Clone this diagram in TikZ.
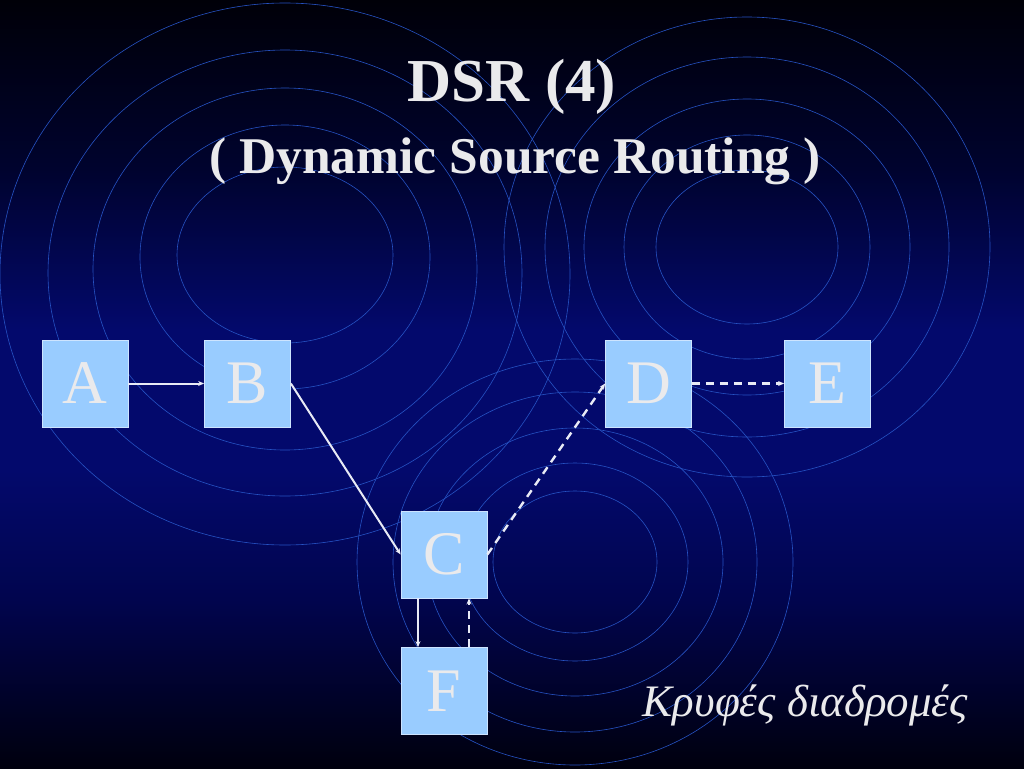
\documentclass[tikz,border=0pt]{standalone}
\usepackage{fontspec}
\setmainfont{Liberation Serif}
\usetikzlibrary{arrows.meta}
\definecolor{bgtop}{RGB}{0,0,8}
\definecolor{bgA}{RGB}{0,3,46}
\definecolor{bgmid}{RGB}{3,9,108}
\definecolor{bgB}{RGB}{1,5,78}
\definecolor{bgbot}{RGB}{0,0,14}
\definecolor{ringc}{RGB}{38,82,195}
\definecolor{boxfill}{RGB}{153,204,255}
\definecolor{boxline}{RGB}{205,228,255}
\definecolor{txt}{RGB}{234,234,236}
\definecolor{edgec}{RGB}{232,234,245}
% positions measured bottom-up; picture fitted to the central 25bp..75bp band
\pgfdeclareverticalshading{bgshade}{100bp}{color(0bp)=(bgbot); color(25bp)=(bgbot); color(36bp)=(bgB); color(44.4bp)=(bgmid); color(53.5bp)=(bgmid); color(64bp)=(bgA); color(75bp)=(bgtop); color(100bp)=(bgtop)}
\tikzset{
  ring/.style={draw=ringc, line width=0.6pt},
  nodebox/.style={draw=boxline, line width=0.8pt, fill=boxfill, minimum width=86pt, minimum height=87pt, inner sep=0pt, text=txt, font=\fontsize{62}{62}\selectfont},
  solidedge/.style={draw=edgec, line width=2pt, -{Stealth[length=6pt,width=5pt]}},
  dashedge/.style={draw=edgec, line width=2.4pt, dash pattern=on 8pt off 6pt, -{Stealth[length=6pt,width=5pt]}},
}
\begin{document}
\begin{tikzpicture}[x=1pt,y=-1pt]
\useasboundingbox (0,0) rectangle (1024,768);
\shade[shading=bgshade] (0,0) rectangle (1024,768);
% left ring set
\draw[ring] (285,255) ellipse [x radius=108, y radius=88];
\draw[ring] (285,257) ellipse [x radius=145, y radius=132];
\draw[ring] (285,269) ellipse [x radius=192, y radius=181];
\draw[ring] (285,273) ellipse [x radius=237, y radius=223];
\draw[ring] (285,274) ellipse [x radius=285, y radius=271];
% right ring set
\draw[ring] (747,247) ellipse [x radius=91, y radius=77];
\draw[ring] (747,247) ellipse [x radius=123, y radius=112];
\draw[ring] (747,247) ellipse [x radius=163, y radius=148];
\draw[ring] (747,247) ellipse [x radius=202, y radius=190];
\draw[ring] (747,247) ellipse [x radius=243, y radius=230];
% bottom ring set
\draw[ring] (575,562) ellipse [x radius=82, y radius=71];
\draw[ring] (575,562) ellipse [x radius=113, y radius=99];
\draw[ring] (575,562) ellipse [x radius=148, y radius=134];
\draw[ring] (575,562) ellipse [x radius=182, y radius=170];
\draw[ring] (575,562) ellipse [x radius=218, y radius=203];
% titles
\node[anchor=base, text=txt, font=\fontsize{61}{61}\selectfont\bfseries, inner sep=0pt] (t1) at (512,101) {DSR (4)};
\node[anchor=base, text=txt, font=\fontsize{51.5}{51.5}\selectfont\bfseries, inner sep=0pt] (t2) at (515,173) {( Dynamic Source Routing )};
% nodes
\node[nodebox] (A) at (85,383.5) {A};
\node[nodebox] (B) at (247.5,383.5) {B};
\node[nodebox] (D) at (648.5,383.5) {D};
\node[nodebox] (E) at (827.5,383.5) {E};
\node[nodebox] (C) at (444,554.5) {C};
\node[nodebox] (F) at (444,691) {F};
% edges
\draw[solidedge] (A) -- (B);
\draw[solidedge] (B.east) -- (C.west);
\draw[dashedge] (C.east) -- (D.west);
\draw[dashedge] (D) -- (E);
\draw[solidedge] ([xshift=-26pt]C.south) -- ([xshift=-26pt]F.north);
\draw[dashedge] ([xshift=25pt]F.north) -- ([xshift=25pt]C.south);
% caption
\node[anchor=base east, text=txt, font=\fontsize{45}{45}\selectfont\itshape, inner sep=0pt] (cap) at (968,716) {Κρυφές διαδρομές};
\end{tikzpicture}
\end{document}
